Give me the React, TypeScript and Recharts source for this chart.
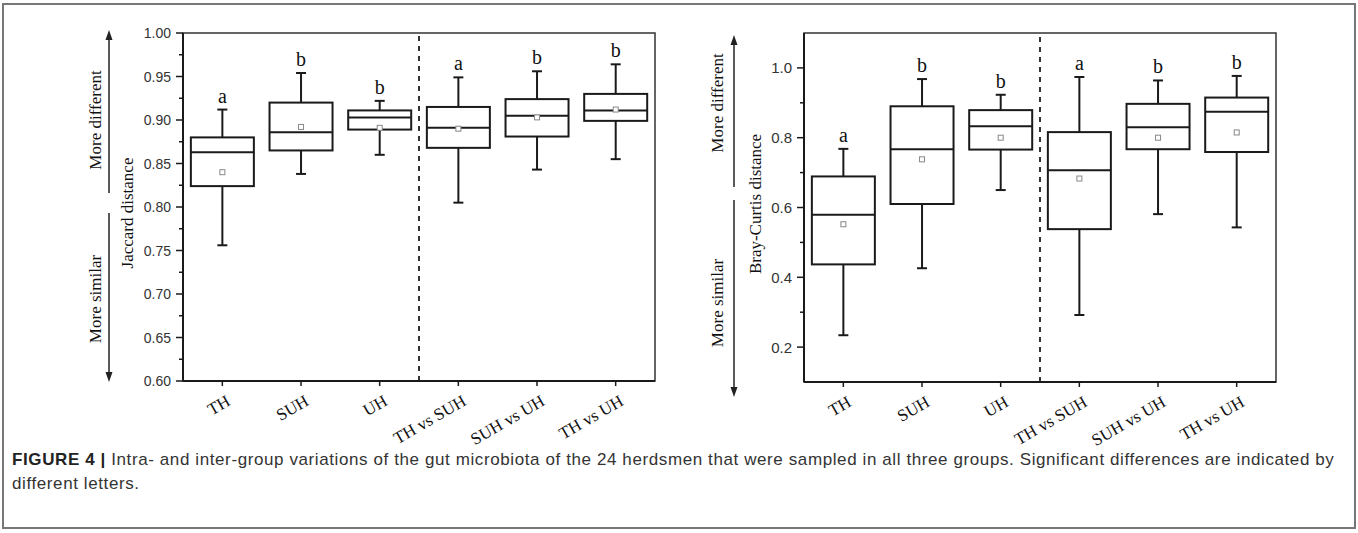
import React from 'react';
import {
  ComposedChart,
  Bar,
  XAxis,
  YAxis,
  ReferenceLine,
  ReferenceArea,
} from 'recharts';

const groups = ['TH', 'SUH', 'UH', 'TH vs SUH', 'SUH vs UH', 'TH vs UH'];
const letters = ['a', 'b', 'b', 'a', 'b', 'b'];

// Jaccard distance (left panel)
const jacMin = [0.756, 0.838, 0.86, 0.805, 0.843, 0.855];
const jacQ1 = [0.824, 0.865, 0.889, 0.868, 0.881, 0.899];
const jacMed = [0.863, 0.886, 0.903, 0.891, 0.905, 0.911];
const jacQ3 = [0.88, 0.92, 0.911, 0.915, 0.924, 0.93];
const jacMax = [0.912, 0.954, 0.922, 0.949, 0.956, 0.964];
const jacMean = [0.84, 0.892, 0.891, 0.89, 0.903, 0.912];
const jacMajor = [0.6, 0.65, 0.7, 0.75, 0.8, 0.85, 0.9, 0.95, 1.0];
const jacMinor = [0.625, 0.675, 0.725, 0.775, 0.825, 0.875, 0.925, 0.975];

// Bray-Curtis distance (right panel)
const bcMin = [0.234, 0.426, 0.65, 0.292, 0.581, 0.543];
const bcQ1 = [0.437, 0.61, 0.766, 0.538, 0.767, 0.759];
const bcMed = [0.579, 0.767, 0.833, 0.707, 0.83, 0.874];
const bcQ3 = [0.689, 0.89, 0.879, 0.816, 0.897, 0.915];
const bcMax = [0.768, 0.968, 0.923, 0.974, 0.964, 0.977];
const bcMean = [0.552, 0.738, 0.8, 0.683, 0.8, 0.815];
const bcMajor = [0.2, 0.4, 0.6, 0.8, 1.0];
const bcMinor = [0.3, 0.5, 0.7, 0.9];

const SERIF = '"Liberation Serif", "Times New Roman", serif';
const SANS = '"Liberation Sans", Arial, sans-serif';
const INK = '#1a1a1a';
const TICK_SIZE = 8;
const TICK_MARGIN = 2;

const build = (mn: number[], q1: number[], md: number[], q3: number[], mx: number[], mean: number[]) =>
  groups.map((name, i) => ({
    name,
    lo: mn[i],
    q1: q1[i],
    med: md[i],
    q3: q3[i],
    hi: mx[i],
    mean: mean[i],
    sig: letters[i],
  }));

const jacData = build(jacMin, jacQ1, jacMed, jacQ3, jacMax, jacMean);
const bcData = build(bcMin, bcQ1, bcMed, bcQ3, bcMax, bcMean);

function BoxShape(props: any) {
  const { x, y, width, height, payload } = props;
  const top = Math.min(y, y + height);
  const bot = Math.max(y, y + height);
  const { lo, hi } = payload;
  // bar spans lo..hi on the axis scale; inner values follow the same linear scale
  const py = (v: number) => bot - ((v - lo) / (hi - lo)) * (bot - top);
  const cx = x + width / 2;
  const yq1 = py(payload.q1);
  const yq3 = py(payload.q3);
  const ymd = py(payload.med);
  const ymn = py(payload.mean);
  return (
    <g>
      <line x1={cx} x2={cx} y1={top} y2={yq3} stroke={INK} strokeWidth={2} />
      <line x1={cx} x2={cx} y1={yq1} y2={bot} stroke={INK} strokeWidth={2} />
      <line x1={cx - 5} x2={cx + 5} y1={top} y2={top} stroke={INK} strokeWidth={2} />
      <line x1={cx - 5} x2={cx + 5} y1={bot} y2={bot} stroke={INK} strokeWidth={2} />
      <rect x={x} y={yq3} width={width} height={yq1 - yq3} fill="#fff" stroke={INK} strokeWidth={2} />
      <line x1={x} x2={x + width} y1={ymd} y2={ymd} stroke={INK} strokeWidth={2} />
      <rect x={cx - 2.5} y={ymn - 2.5} width={5} height={5} fill="#fff" stroke="#888" strokeWidth={1} />
      <text x={cx} y={top - 7} textAnchor="middle" fontFamily={SERIF} fontSize={20} fill="#111">
        {payload.sig}
      </text>
    </g>
  );
}

const makeYTick = (majors: number[], digits: number, size: number) => (props: any) => {
  const { x, y, payload } = props;
  const v = payload.value;
  const major = majors.some((m) => Math.abs(m - v) < 1e-6);
  const ax = x + TICK_SIZE + TICK_MARGIN;
  return (
    <g>
      <line x1={ax - (major ? 7 : 4)} x2={ax} y1={y} y2={y} stroke={INK} strokeWidth={1.5} />
      {major && (
        <text x={ax - 12} y={y} dy="0.36em" textAnchor="end" fontFamily={SANS} fontSize={size} fill="#333">
          {v.toFixed(digits)}
        </text>
      )}
    </g>
  );
};

const XTick = (props: any) => {
  const { x, y, payload } = props;
  return (
    <text
      transform={`translate(${x + 3},${y + 6}) rotate(-30)`}
      textAnchor="end"
      dy="0.7em"
      fontFamily={SERIF}
      fontSize={17}
      fill="#111"
    >
      {payload.value}
    </text>
  );
};

interface PanelProps {
  data: any[];
  domain: [number, number];
  majors: number[];
  minors: number[];
  digits: number;
  labelSize: number;
  width: number;
  margin: { top: number; right: number; bottom: number; left: number };
}

function Panel({ data, domain, majors, minors, digits, labelSize, width, margin }: PanelProps) {
  const ticks = [...majors, ...minors].sort((a, b) => a - b);
  return (
    <ComposedChart width={width} height={480} data={data} margin={margin} barCategoryGap="10%">
      <XAxis
        dataKey="name"
        interval={0}
        height={50}
        tick={<XTick />}
        tickSize={5}
        tickMargin={2}
        tickLine={{ stroke: INK, strokeWidth: 1.5 }}
        axisLine={{ stroke: INK, strokeWidth: 2 }}
      />
      <YAxis
        type="number"
        domain={domain}
        ticks={ticks}
        interval={0}
        width={60}
        allowDataOverflow
        tickLine={false}
        tickSize={TICK_SIZE}
        tickMargin={TICK_MARGIN}
        tick={makeYTick(majors, digits, labelSize)}
        axisLine={{ stroke: INK, strokeWidth: 2 }}
      />
      <ReferenceArea
        y1={domain[0]}
        y2={domain[1]}
        fill="none"
        stroke="#333"
        strokeWidth={1.5}
        ifOverflow="visible"
      />
      <ReferenceLine x="TH vs SUH" position="start" stroke="#333" strokeWidth={2} strokeDasharray="5 5" />
      <Bar
        dataKey={(d: any) => [d.lo, d.hi]}
        shape={(p: any) => <BoxShape {...p} />}
        isAnimationActive={false}
      />
    </ComposedChart>
  );
}

function Arrow({ x, y1, y2, up }: { x: number; y1: number; y2: number; up: boolean }) {
  const tip = up ? y1 : y2;
  const d = up ? 10 : -10;
  return (
    <g>
      <line x1={x} x2={x} y1={y1 + (up ? 6 : 0)} y2={y2 - (up ? 0 : 6)} stroke="#222" strokeWidth={1.5} />
      <polygon points={`${x},${tip} ${x - 3.5},${tip + d} ${x + 3.5},${tip + d}`} fill="#222" />
    </g>
  );
}

function VText({ x, y, children }: { x: number; y: number; children: React.ReactNode }) {
  return (
    <text
      transform={`translate(${x},${y}) rotate(-90)`}
      textAnchor="middle"
      dominantBaseline="central"
      fontFamily={SERIF}
      fontSize={17}
      fill="#111"
    >
      {children}
    </text>
  );
}

export default function App() {
  return (
    <div style={{ position: 'absolute', left: 0, top: 0, width: 1358, height: 533, background: '#fff', overflow: 'hidden' }}>
      <div
        style={{
          position: 'absolute',
          left: 2,
          top: 3,
          width: 1350,
          height: 522,
          border: '2px solid #777',
        }}
      />
      <div style={{ position: 'absolute', left: 0, top: 0 }}>
        <Panel
          data={jacData}
          domain={[0.6, 1.0]}
          majors={jacMajor}
          minors={jacMinor}
          digits={2}
          labelSize={14}
          width={680}
          margin={{ top: 33, right: 25, bottom: 49, left: 123 }}
        />
      </div>
      <div style={{ position: 'absolute', left: 680, top: 0 }}>
        <Panel
          data={bcData}
          domain={[0.1, 1.1]}
          majors={bcMajor}
          minors={bcMinor}
          digits={1}
          labelSize={15}
          width={640}
          margin={{ top: 33, right: 44, bottom: 48, left: 64 }}
        />
      </div>
      <svg width={1358} height={533} style={{ position: 'absolute', left: 0, top: 0, pointerEvents: 'none' }}>
        <Arrow x={109} y1={30} y2={193} up />
        <Arrow x={109} y1={213} y2={382} up={false} />
        <VText x={95} y={120}>More different</VText>
        <VText x={95} y={299}>More similar</VText>
        <VText x={127} y={213}>Jaccard distance</VText>

        <Arrow x={734} y1={35} y2={187} up />
        <Arrow x={734} y1={200} y2={397} up={false} />
        <VText x={717} y={103}>More different</VText>
        <VText x={717} y={303}>More similar</VText>
        <VText x={755} y={204}>Bray-Curtis distance</VText>
      </svg>
      <div
        style={{
          position: 'absolute',
          left: 12,
          top: 448,
          fontFamily: SANS,
          fontSize: 17,
          letterSpacing: '0.6px',
          lineHeight: '24px',
          color: '#333',
          whiteSpace: 'nowrap',
        }}
      >
        <span style={{ fontWeight: 'bold', color: '#222' }}>FIGURE 4 | </span>
        Intra- and inter-group variations of the gut microbiota of the 24 herdsmen that were sampled in all three groups. Significant differences are indicated by
        <br />
        different letters.
      </div>
    </div>
  );
}
